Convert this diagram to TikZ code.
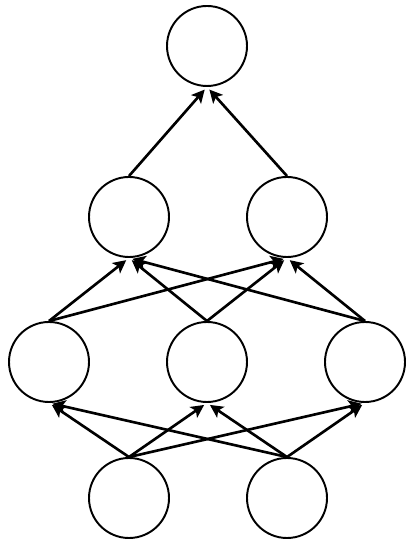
\documentclass[tikz,border=0pt]{standalone}
\usetikzlibrary{arrows.meta}

\begin{document}
\begin{tikzpicture}[
        neuron/.style={circle, draw, line width=1.1pt, minimum size=1.6cm, inner sep=0pt},
        link/.style={line width=1.5pt, -{Stealth[length=0.26cm, width=0.26cm, inset=0.06cm]}, shorten >=2pt}
    ]
        \useasboundingbox (0,0) rectangle (8.14,10.86);

        % Input row
        \node[neuron] (in1) at (2.58,0.90) {};
        \node[neuron] (in2) at (5.74,0.90) {};

        % First hidden row
        \node[neuron] (ha) at (0.98,3.62) {};
        \node[neuron] (hb) at (4.14,3.62) {};
        \node[neuron] (hc) at (7.30,3.62) {};

        % Second hidden row
        \node[neuron] (ka) at (2.58,6.52) {};
        \node[neuron] (kb) at (5.74,6.52) {};

        % Output
        \node[neuron] (out) at (4.14,9.94) {};

        % Connections
        \draw[link] (in1.north) -- (ha.south);
        \draw[link] (in1.north) -- (hb.south);
        \draw[link] (in1.north) -- (hc.south);
        \draw[link] (in2.north) -- (ha.south);
        \draw[link] (in2.north) -- (hb.south);
        \draw[link] (in2.north) -- (hc.south);

        \draw[link] (ha.north) -- (ka.south);
        \draw[link] (ha.north) -- (kb.south);
        \draw[link] (hb.north) -- (ka.south);
        \draw[link] (hb.north) -- (kb.south);
        \draw[link] (hc.north) -- (ka.south);
        \draw[link] (hc.north) -- (kb.south);

        \draw[link] (ka.north) -- (out.south);
        \draw[link] (kb.north) -- (out.south);
    \end{tikzpicture}
\end{document}
